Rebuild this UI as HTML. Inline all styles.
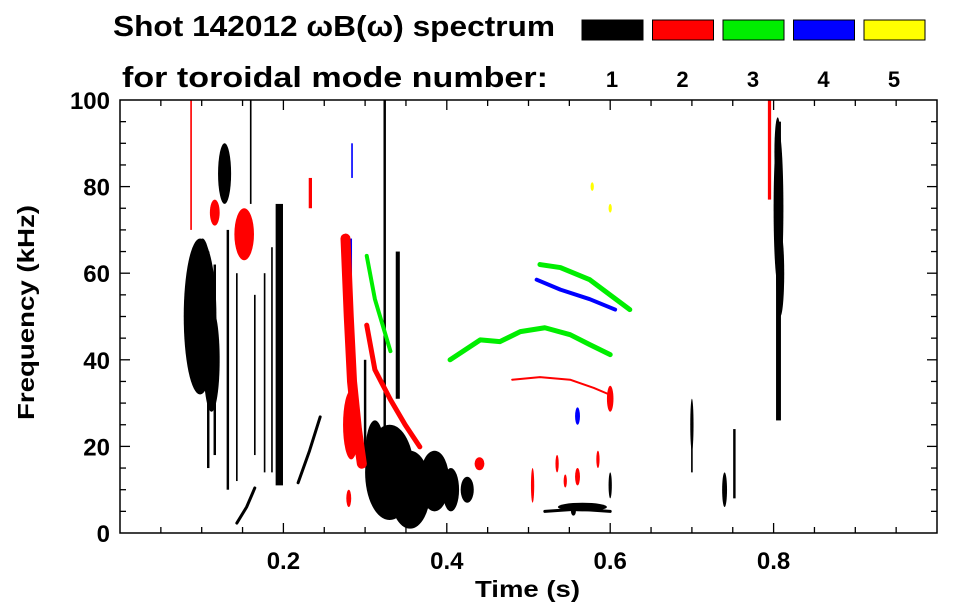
<!DOCTYPE html>
<html><head><meta charset="utf-8"><style>
body{margin:0;background:#fff;width:963px;height:615px;overflow:hidden}
svg{display:block}
text{font-family:"Liberation Sans",Arial,sans-serif;font-weight:bold;fill:#000}
</style></head><body>
<svg id="chart" width="963" height="615" viewBox="0 0 963 615">
<text x="113" y="36" font-size="29" textLength="442" lengthAdjust="spacingAndGlyphs">Shot 142012 ωB(ω) spectrum</text>
<text x="122" y="87" font-size="29" textLength="426" lengthAdjust="spacingAndGlyphs">for toroidal mode number:</text>
<g id="legend"></g>
<g id="marks"></g>
<g id="axes"></g>
<text x="475" y="597" font-size="23" textLength="105" lengthAdjust="spacingAndGlyphs">Time (s)</text>
<text transform="translate(34,420) rotate(-90)" font-size="23" textLength="215" lengthAdjust="spacingAndGlyphs">Frequency (kHz)</text>
</svg>
<script>
const modeColors=["#000000","#ff0000","#00ee00","#0000ff","#ffff00"];
const modeLabels=["1","2","3","4","5"];
const xTicks=[0.2,0.4,0.6,0.8];
const yTicks=[0,20,40,60,80,100];
// blobs: mode, tCenter, fCenter, tHalfWidth, fHalfHeight
const blobMode=[1,1,1,1,1,1,1,1,1,1,1,1,1,1,2,2,2,2,4,1,1,1,1,2,2,2,2,5,5,2,2,2];
const blobT=[0.098,0.101,0.112,0.128,0.330,0.355,0.385,0.405,0.425,0.312,0.806,0.808,0.805,0.566,0.116,0.152,0.283,0.600,0.560,0.740,0.700,0.600,0.555,0.505,0.440,0.560,0.280,0.578,0.600,0.535,0.585,0.545];
const blobF=[50,54,40,83,14,10,12,10,10,18,75,60,88,6,74,69,25,31,27,10,25,11,5,11,16,13,8,80,75,16,17,12];
const blobDT=[0.020,0.012,0.010,0.008,0.030,0.025,0.018,0.010,0.008,0.012,0.006,0.005,0.004,0.030,0.006,0.012,0.010,0.004,0.003,0.003,0.002,0.002,0.003,0.002,0.006,0.003,0.003,0.002,0.002,0.002,0.002,0.002];
const blobDF=[18,14,12,7,11,9,7,5,3,8,18,10,8,1,3,6,8,3,2,4,6,3,1,4,1.5,2,2,1,1,2,2,1.5];
// streaks: mode, t, f0, f1, width(s)
const strMode=[1,1,1,1,1,1,1,1,1,1,1,2,2,4,4,1,2,1,1,1];
const strT=[0.108,0.116,0.132,0.143,0.165,0.177,0.186,0.195,0.324,0.340,0.806,0.087,0.795,0.282,0.284,0.300,0.233,0.700,0.752,0.160];
const strF0=[15,18,10,12,18,14,14,11,8,31,26,70,77,53,82,16,75,14,8,76];
const strF1=[65,62,70,60,55,60,66,76,100,65,95,100,100,68,90,40,82,28,24,100];
const strW=[0.003,0.003,0.003,0.002,0.002,0.002,0.002,0.009,0.003,0.005,0.006,0.002,0.004,0.004,0.002,0.003,0.004,0.002,0.003,0.002];
// curves: mode, time points, freq points
const curveMode=[2,2,3,3,3,4,2,1,1,1];
const curveT=[[0.276,0.280,0.284,0.290,0.296],[0.302,0.312,0.331,0.349,0.367],[0.302,0.312,0.331],[0.404,0.441,0.465,0.490,0.520,0.551,0.575,0.600],[0.514,0.539,0.575,0.624],[0.510,0.539,0.575,0.606],[0.480,0.514,0.551,0.580,0.600],[0.218,0.232,0.245],[0.143,0.155,0.165],[0.520,0.560,0.600]];
const curveF=[[68,50,35,24,16],[48,37.7,30.8,25,19.9],[64,54,42],[40,44.6,44.2,46.5,47.4,45.8,43.5,41.2],[62,61.3,58.5,51.6],[58.5,56.2,54,51.6],[35.4,36,35.4,33.5,31.9],[11.6,19,26.8],[2.3,6,10.4],[5,5.5,5]];
const curveW=[10,5,4,5,5,4,2,3,3,3];

const X0=120,X1=937,Y0=533,Y1=100;
const xs=t=>X0+t*(X1-X0)/1.0;
const ys=f=>Y0-f*(Y0-Y1)/100;
const NS="http://www.w3.org/2000/svg";
function mk(tag,attrs,parent){const e=document.createElementNS(NS,tag);for(const k in attrs)e.setAttribute(k,attrs[k]);parent.appendChild(e);return e;}
const marks=document.getElementById('marks');
for(let i=0;i<blobT.length;i++){
 const e=mk('ellipse',{cx:xs(blobT[i]),cy:ys(blobF[i]),rx:blobDT[i]*(X1-X0),ry:blobDF[i]*(Y0-Y1)/100,fill:modeColors[blobMode[i]-1]},marks);
 
 
}
for(let i=0;i<strT.length;i++){
 const w=Math.max(1,strW[i]*(X1-X0));
 const e=mk('rect',{x:xs(strT[i])-w/2,y:ys(strF1[i]),width:w,height:ys(strF0[i])-ys(strF1[i]),fill:modeColors[strMode[i]-1]},marks);
 
 
}
for(let i=0;i<curveT.length;i++){
 const pts=curveT[i].map((t,j)=>xs(t)+','+ys(curveF[i][j])).join(' ');
 const e=mk('polyline',{points:pts,fill:'none',stroke:modeColors[curveMode[i]-1],'stroke-width':curveW[i],'stroke-linejoin':'round','stroke-linecap':'round'},marks);
 
 
}
const axes=document.getElementById('axes');
const frame=mk('rect',{x:X0,y:Y1,width:X1-X0,height:Y0-Y1,fill:'none',stroke:'#000','stroke-width':1.5},axes);


for(let k=1;k<20;k++){const t=k*0.05,x=xs(t),L=(k%4==0)?10:6;
 mk('line',{x1:x,x2:x,y1:Y0,y2:Y0-L,stroke:'#000','stroke-width':1.3},axes);
 mk('line',{x1:x,x2:x,y1:Y1,y2:Y1+L,stroke:'#000','stroke-width':1.3},axes);}
for(let k=1;k<20;k++){const f=k*5,y=ys(f),L=(k%4==0)?10:6;
 mk('line',{x1:X0,x2:X0+L,y1:y,y2:y,stroke:'#000','stroke-width':1.3},axes);
 mk('line',{x1:X1,x2:X1-L,y1:y,y2:y,stroke:'#000','stroke-width':1.3},axes);}
xTicks.forEach(t=>{const e=mk('text',{x:xs(t),y:569,'font-size':24,'text-anchor':'middle'},axes);e.textContent=t.toFixed(1);
 
 });
yTicks.forEach(f=>{const e=mk('text',{x:110,y:ys(f)+9,'font-size':24,'text-anchor':'end'},axes);e.textContent=f;
 
 });
const leg=document.getElementById('legend');
modeLabels.forEach((m,i)=>{const x=582+i*70.5;
 const r=mk('rect',{x:x,y:20,width:61,height:20,fill:modeColors[i],stroke:'#000','stroke-width':1},leg);
 
 
 const t=mk('text',{x:x+30,y:87,'font-size':22,'text-anchor':'middle'},leg);t.textContent=m;
 
 });
</script>
</body></html>
